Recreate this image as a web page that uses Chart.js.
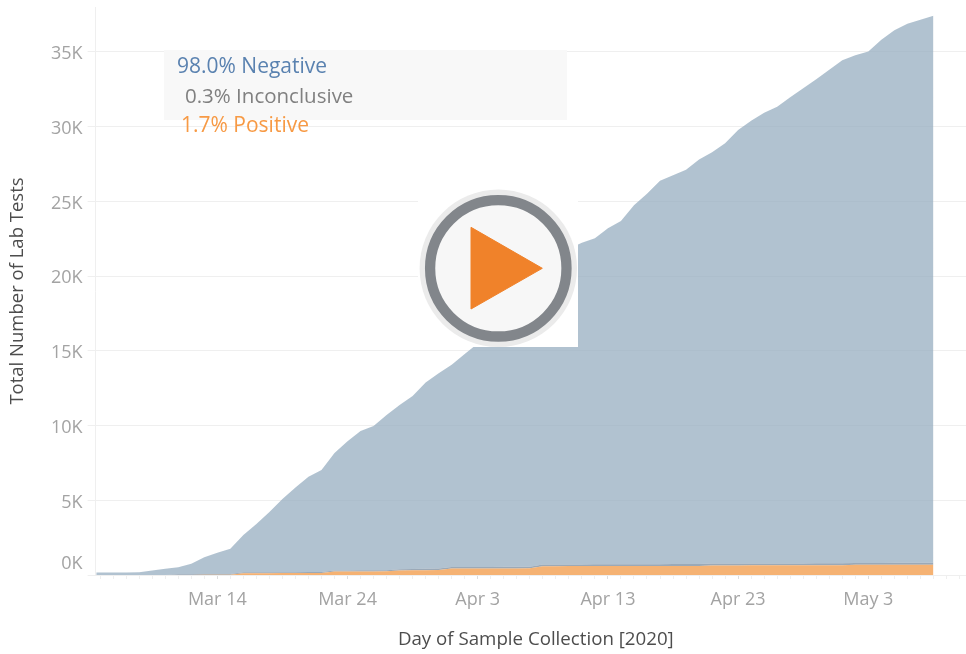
<!DOCTYPE html>
<html>
<head>
<meta charset="utf-8">
<title>Total Number of Lab Tests</title>
<script src="https://cdn.jsdelivr.net/npm/chart.js@4"></script>
<style>
    html, body { margin: 0; padding: 0; background: #fff; overflow: hidden; }
    #wrap { position: relative; width: 966px; height: 654px; overflow: hidden; }
    #line-chartcanvas { position: absolute; left: 0; top: 0; }
    .note { position: absolute; font: 21px "Open Sans", sans-serif; white-space: nowrap; line-height: 24px; }
    #noteBox { position: absolute; left: 164px; top: 50px; width: 403px; height: 70px; background: #f8f8f8; }
    #playMask { position: absolute; left: 418px; top: 190px; width: 160px; height: 157px; background: #fff; }
    #play { position: absolute; left: 410px; top: 180px; }
</style>
</head>
<body>
<div id="wrap">
    <!-- canvas is 10px wider than the frame: the x axis runs off the right edge -->
    <canvas id="line-chartcanvas" width="976" height="654"></canvas>
    <div id="noteBox"></div>
    <div class="note" style="left:177px;top:53px;color:#5a82b0">98.0% Negative</div>
    <div class="note" style="left:185px;top:83px;color:#808080;font-size:20.5px">0.3% Inconclusive</div>
    <div class="note" style="left:181px;top:112px;color:#f79a45">1.7% Positive</div>
    <div id="playMask"></div>
    <svg id="play" width="180" height="180" viewBox="410 180 180 180">
        <circle cx="498.3" cy="268.3" r="78.7" fill="#ebebeb"/>
        <circle cx="498.3" cy="268.3" r="68.2" fill="#f7f7f7" stroke="#82868b" stroke-width="10.3"/>
        <polygon points="471,227.3 542.3,268.3 471,309" fill="#f0822a" stroke="#f0822a" stroke-width="1" stroke-linejoin="round"/>
    </svg>
</div>

<script>
// days counted from Mar 14, 2020
const sampleDays = [-9.3, -8, -7, -6, -5, -4, -3, -2, -1, 0, 1, 2, 3, 4, 5, 6, 7, 8, 9, 10,
    11, 12, 13, 14, 15, 16, 17, 18, 19, 20, 21, 22, 23, 24, 25, 26, 27, 28, 29, 30,
    31, 32, 33, 34, 35, 36, 37, 38, 39, 40, 41, 42, 43, 44, 45, 46, 47, 48, 49, 50,
    51, 52, 53, 54, 55]

const totalTests = [160, 160, 170, 190, 300, 420, 520, 750, 1190, 1490, 1760, 2680, 3410, 4220, 5090, 5860, 6570, 7030, 8170, 8940,
    9640, 9970, 10710, 11380, 11980, 12880, 13490, 14060, 14790, 15490, 16330, 17130, 18000, 18940, 19740, 20550, 21820, 22220, 22530, 23190,
    23690, 24730, 25510, 26370, 26740, 27110, 27800, 28280, 28890, 29770, 30390, 30920, 31320, 31960, 32570, 33160, 33800, 34440, 34770, 35020,
    35810, 36440, 36880, 37150, 37410]

const positiveTests = [0, 0, 0, 0, 0, 0, 0, 5, 10, 15, 20, 120, 120, 125, 130, 130, 135, 140, 230, 235,
    235, 240, 245, 300, 310, 320, 330, 430, 430, 435, 435, 440, 440, 445, 590, 590, 595, 595, 600, 600,
    600, 605, 605, 605, 610, 610, 610, 640, 640, 640, 645, 645, 645, 650, 650, 650, 650, 655, 680, 680,
    680, 685, 685, 690, 690]

const inconclusiveTests = [0, 0, 0, 0, 0, 0, 50, 50, 50, 50, 50, 60, 60, 60, 60, 60, 60, 60, 70, 70,
    75, 75, 80, 85, 90, 95, 100, 100, 100, 105, 105, 105, 110, 110, 110, 110, 115, 115, 115, 115,
    115, 120, 120, 120, 120, 120, 120, 125, 125, 125, 125, 125, 125, 125, 125, 130, 130, 130, 130, 130,
    130, 130, 130, 130, 130]

const negativeTests = totalTests.map((t, i) => t - positiveTests[i] - inconclusiveTests[i])

const tickDays = [0, 10, 20, 30, 40, 50]
const tickLabels = ['Mar 14', 'Mar 24', 'Apr 3', 'Apr 13', 'Apr 23', 'May 3']
const yTicks = [0, 5000, 10000, 15000, 20000, 25000, 30000, 35000]

function points(values) {
    return values.map((v, i) => ({ x: sampleDays[i], y: v }))
}

let gridColor = '#efefef'
let labelFont = '"Open Sans", sans-serif'

let ctx = document.getElementById('line-chartcanvas')

let chart = new Chart(ctx, {
    type: 'line',
    data: {
        datasets: [{
                label: 'Positive',
                data: points(positiveTests),
                backgroundColor: 'rgba(243,165,90,0.85)',
                fill: 'origin'
            },
            {
                label: 'Inconclusive',
                data: points(inconclusiveTests),
                backgroundColor: 'rgba(130,148,165,0.8)',
                fill: '-1'
            },
            {
                label: 'Negative',
                data: points(negativeTests),
                backgroundColor: 'rgba(151,174,192,0.75)',
                fill: '-1'
            }
        ]
    },
    options: {
        responsive: false,
        animation: false,
        layout: { padding: { top: 7, right: 0, bottom: 0, left: 0 } },
        elements: {
            line: { tension: 0, borderWidth: 0 },
            point: { radius: 0 }
        },
        plugins: {
            legend: { display: false },
            tooltip: { enabled: false }
        },
        scales: {
            x: {
                type: 'linear',
                min: -9.35,
                max: 58.27,
                afterBuildTicks: (scale) => {
                    let list = []
                    for (let d = -9; d <= 58; d++) list.push({ value: d })
                    scale.ticks = list
                },
                afterFit: (scale) => {
                    scale.height = 79
                    scale.paddingLeft = 0
                    scale.paddingRight = 0
                },
                border: { color: gridColor },
                grid: {
                    drawOnChartArea: false,
                    tickLength: 4,
                    tickColor: (c) => c.tick && tickDays.includes(c.tick.value) ? '#dddddd' : '#efefef'
                },
                ticks: {
                    autoSkip: false,
                    maxRotation: 0,
                    padding: 10,
                    color: '#a3a3a3',
                    font: { family: labelFont, size: 18 },
                    callback: (v) => {
                        let i = tickDays.indexOf(v)
                        return i < 0 ? '' : tickLabels[i]
                    }
                },
                title: {
                    display: true,
                    text: 'Day of Sample Collection [2020]',
                    color: '#4d4d4d',
                    font: { family: labelFont, size: 18.7, weight: '500' },
                    padding: { top: 0, bottom: 3 }
                }
            },
            y: {
                stacked: true,
                min: 0,
                max: 38000,
                afterBuildTicks: (scale) => {
                    scale.ticks = yTicks.map((v) => ({ value: v }))
                },
                afterFit: (scale) => {
                    scale.width = 95.6
                    scale.paddingTop = 0
                    scale.paddingBottom = 0
                },
                border: { color: gridColor },
                grid: { color: gridColor, tickColor: gridColor, tickLength: 8 },
                ticks: {
                    autoSkip: false,
                    padding: 5,
                    color: '#a3a3a3',
                    // blank lines nudge the labels: 0K sits above its gridline, the rest just below
                    font: (c) => ({ family: labelFont, size: 18, lineHeight: c.tick && c.tick.value === 0 ? 1.25 : 0.25 }),
                    callback: (v) => v === 0 ? ['0K', ''] : ['', (v / 1000) + 'K']
                },
                title: {
                    display: true,
                    text: 'Total Number of Lab Tests',
                    color: '#4d4d4d',
                    font: { family: labelFont, size: 18.5, weight: '500' },
                    padding: { top: 7, bottom: 0 }
                }
            }
        }
    }
})
</script>
</body>
</html>
